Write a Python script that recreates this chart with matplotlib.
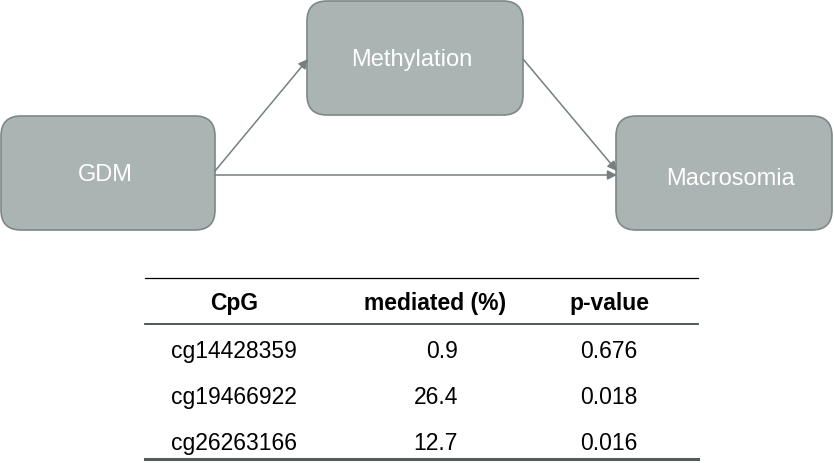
import matplotlib.pyplot as plt
from matplotlib.patches import FancyBboxPatch, FancyArrowPatch

plt.rcParams['font.family'] = ['Liberation Sans', 'DejaVu Sans']

# ---------------- Data ----------------
nodes = ['GDM', 'Methylation', 'Macrosomia']
edges = [('GDM', 'Methylation'), ('GDM', 'Macrosomia'), ('Methylation', 'Macrosomia')]

columns = ['CpG', 'mediated (%)', 'p-value']
cpg = ['cg14428359', 'cg19466922', 'cg26263166']
mediated = [0.9, 26.4, 12.7]
p_values = [0.676, 0.018, 0.016]

# ---------------- Layout (pixel coords) ----------------
W, H = 834, 464
box = {  # x, y(top), w, h
    'GDM': (1, 117, 214, 114),
    'Methylation': (307, 2, 216, 114),
    'Macrosomia': (616, 117, 216, 114),
}
label_pos = {'GDM': (105, 175), 'Methylation': (412, 60), 'Macrosomia': (731, 179)}
anchors = {
    ('GDM', 'Methylation'): ((215, 172), (308, 60)),
    ('GDM', 'Macrosomia'): ((215, 176), (617, 176)),
    ('Methylation', 'Macrosomia'): ((523, 60), (617, 172)),
}

box_face = '#aab4b3'
box_edge = '#7d8887'
arrow_col = '#75807f'

fig = plt.figure(figsize=(W / 100, H / 100), dpi=100)
ax = fig.add_axes([0, 0, 1, 1])
ax.set_xlim(0, W)
ax.set_ylim(H, 0)
ax.axis('off')

for name in nodes:
    x, y, w, h = box[name]
    ax.add_patch(FancyBboxPatch((x, y), w, h,
                                boxstyle='round,pad=0,rounding_size=20',
                                fc=box_face, ec=box_edge, lw=1.2))
    tx, ty = label_pos[name]
    ax.text(tx, ty, name, color='white', fontsize=17,
            ha='center', va='center')

for e in edges:
    (x0, y0), (x1, y1) = anchors[e]
    ax.add_patch(FancyArrowPatch((x0, y0), (x1, y1), arrowstyle='-|>',
                                 mutation_scale=14, color=arrow_col,
                                 lw=1.1, shrinkA=0, shrinkB=0))

# ---------------- Table ----------------
tx0, tx1 = 145, 698
ax.plot([tx0, tx1], [279, 279], color='black', lw=0.9)
ax.plot([tx0, tx1], [325, 325], color='#444a4a', lw=1.3)
ax.plot([tx0, tx1], [460, 460], color='#555a5a', lw=2.2)

col_x = [234, 435, 609]
for cx, c in zip(col_x, columns):
    ax.text(cx, 310, c, fontsize=16.5, fontweight='bold',
            ha='center', va='baseline', color='black')

row_base = [358, 404, 450]
for ry, name, m, p in zip(row_base, cpg, mediated, p_values):
    ax.text(col_x[0], ry, name, fontsize=16.5, ha='center', va='baseline')
    ax.text(458, ry, f'{m:.1f}', fontsize=16.5, ha='right', va='baseline')
    ax.text(col_x[2], ry, f'{p:.3f}', fontsize=16.5, ha='center', va='baseline')

fig.savefig('out.png', dpi=100)
